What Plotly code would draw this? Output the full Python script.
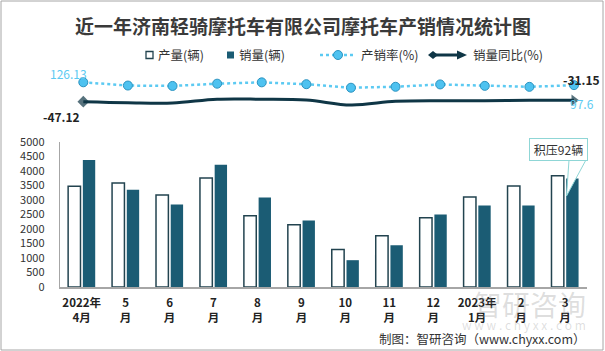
import plotly.graph_objects as go

W, H = 605, 351

categories = ["2022年<br>4月", "5<br>月", "6<br>月", "7<br>月", "8<br>月", "9<br>月",
              "10<br>月", "11<br>月", "12<br>月", "2023年<br>1月", "2<br>月", "3<br>月"]
production = [3470, 3585, 3175, 3755, 2455, 2145, 1290, 1770, 2385, 3105, 3480, 3833]
sales = [4377, 3355, 2842, 4212, 3082, 2295, 925, 1438, 2500, 2808, 2808, 3741]
ratio = [126.13, 93.6, 89.5, 112.2, 125.5, 107.0, 71.7, 81.2, 104.8, 90.4, 80.7, 97.6]
yoy = [-47.12, -59, -63, -18, -18, -27, -87, -43, -35, -35, -31, -31.15]
yticks = [0, 500, 1000, 1500, 2000, 2500, 3000, 3500, 4000, 4500, 5000]

FONT = "Noto Sans CJK SC, Microsoft YaHei, sans-serif"
DARK = "#0f3646"
BAR_DARK = "#1b5c74"
BAR_EDGE = "#22434f"
LIGHT = "#5ccaf2"
TEAL = "#8fd6d6"


def px(x):
    return x / W


def py(y):
    return 1 - y / H


fig = go.Figure()
fig.add_trace(go.Bar(name="产量(辆)", x=categories, y=production,
                     marker=dict(color="#ffffff", line=dict(color=BAR_EDGE, width=1.5)),
                     yaxis="y", xaxis="x"))
fig.add_trace(go.Bar(name="销量(辆)", x=categories, y=sales,
                     marker=dict(color=BAR_DARK, line=dict(width=0)),
                     yaxis="y", xaxis="x"))
fig.add_trace(go.Scatter(name="产销率(%)", x=categories, y=ratio, xaxis="x2", yaxis="y2",
                         mode="lines+markers",
                         line=dict(color=LIGHT, width=2.5, dash="dot"),
                         marker=dict(symbol="circle", size=9, color="#4ec2f0",
                                     line=dict(color="#2b93c0", width=1))))
n = len(yoy)
fig.add_trace(go.Scatter(name="销量同比(%)", x=categories, y=yoy, xaxis="x2", yaxis="y3",
                         mode="lines+markers",
                         line=dict(color=DARK, width=3, shape="spline", smoothing=1.0),
                         marker=dict(symbol=["diamond"] + ["circle"] * (n - 2) + ["triangle-right"],
                                     size=[9] + [0] * (n - 2) + [10], color=DARK,
                                     line=dict(width=0))))

LEG_Y = 55
leg_font = dict(size=12.5, color="#333333", family=FONT)

annotations = [
    dict(text="近一年济南轻骑摩托车有限公司摩托车产销情况统计图", x=0.5, y=py(25), xref="paper", yref="paper",
         xanchor="center", yanchor="middle",
         showarrow=False, font=dict(size=19, color="#3a3a3a", family=FONT, weight="bold")),
    dict(text="产量(辆)", x=px(156), y=py(LEG_Y), xref="paper", yref="paper", xanchor="left",
         yanchor="middle", showarrow=False, font=leg_font),
    dict(text="销量(辆)", x=px(237), y=py(LEG_Y), xref="paper", yref="paper", xanchor="left",
         yanchor="middle", showarrow=False, font=leg_font),
    dict(text="产销率(%)", x=px(359), y=py(LEG_Y), xref="paper", yref="paper", xanchor="left",
         yanchor="middle", showarrow=False, font=leg_font),
    dict(text="销量同比(%)", x=px(471), y=py(LEG_Y), xref="paper", yref="paper", xanchor="left",
         yanchor="middle", showarrow=False, font=leg_font),
    dict(text="126.13", x=categories[0], y=ratio[0], xref="x2", yref="y2", showarrow=False,
         xanchor="center", yanchor="middle",
         xshift=-15, yshift=9, font=dict(size=12, color=LIGHT, family=FONT)),
    dict(text="-47.12", x=categories[0], y=yoy[0], xref="x2", yref="y3", showarrow=False,
         xanchor="center", yanchor="middle",
         xshift=-22, yshift=-15, font=dict(size=12, color="#222222", family=FONT, weight="bold")),
    dict(text="-31.15", x=categories[-1], y=ratio[-1], xref="x2", yref="y2", showarrow=False,
         xanchor="center", yanchor="middle",
         xshift=7, yshift=6, font=dict(size=12, color="#222222", family=FONT, weight="bold")),
    dict(text="97.6", x=categories[-1], y=yoy[-1], xref="x2", yref="y3", showarrow=False,
         xanchor="center", yanchor="middle",
         xshift=8, yshift=-3, font=dict(size=12, color=LIGHT, family=FONT)),
    dict(text="积压92辆", x=px(558), y=py(149.5), xref="paper", yref="paper", showarrow=False,
         xanchor="center", yanchor="middle",
         font=dict(size=12, color="#333333", family=FONT), bgcolor="#ffffff",
         bordercolor=TEAL, borderwidth=1, borderpad=3, width=51, height=15),
    dict(text="智研咨询", x=px(588), y=py(304), xref="paper", yref="paper", xanchor="right",
         yanchor="middle",
         showarrow=False, font=dict(size=28, color="rgba(140,140,140,0.28)", family=FONT)),
    dict(text="w w w . c h y x x . c o m", x=px(588), y=py(324), xref="paper", yref="paper",
         xanchor="right", yanchor="middle", showarrow=False,
         font=dict(size=12, color="rgba(140,140,140,0.28)", family=FONT)),
    dict(text="制图：智研咨询（www.chyxx.com）", x=px(588), y=py(338), xref="paper", yref="paper",
         xanchor="right", yanchor="middle", showarrow=False,
         font=dict(size=12.5, color="#333333", family=FONT)),
]

shapes = [
    dict(type="rect", xref="paper", yref="paper", x0=px(1), x1=px(603), y0=py(350), y1=py(1),
         line=dict(color="#a6a6a6", width=1)),
    # callout pointer
    dict(type="path", xref="paper", yref="paper",
         path=f"M {px(569)},{py(160)} L {px(566.5)},{py(196)} L {px(587)},{py(158)} Z",
         fillcolor="#ffffff", line=dict(color=TEAL, width=1)),
    # legend symbols
    dict(type="rect", xref="paper", yref="paper", x0=px(146), x1=px(153), y0=py(LEG_Y + 3.5),
         y1=py(LEG_Y - 3.5), fillcolor="#ffffff", line=dict(color=BAR_EDGE, width=1.3)),
    dict(type="rect", xref="paper", yref="paper", x0=px(227), x1=px(234), y0=py(LEG_Y + 3.5),
         y1=py(LEG_Y - 3.5), fillcolor=BAR_DARK, line=dict(width=0)),
    dict(type="line", xref="paper", yref="paper", x0=px(320), x1=px(353), y0=py(LEG_Y),
         y1=py(LEG_Y), line=dict(color=LIGHT, width=2.5, dash="dot")),
    dict(type="circle", xref="paper", yref="paper", x0=px(333.5), x1=px(342.5), y0=py(LEG_Y + 4.5),
         y1=py(LEG_Y - 4.5), fillcolor="#4ec2f0", line=dict(color="#2b93c0", width=1)),
    dict(type="line", xref="paper", yref="paper", x0=px(431), x1=px(462), y0=py(LEG_Y),
         y1=py(LEG_Y), line=dict(color=DARK, width=3)),
    dict(type="path", xref="paper", yref="paper",
         path=(f"M {px(428)},{py(LEG_Y)} L {px(433)},{py(LEG_Y - 4)} L {px(438)},{py(LEG_Y)} "
               f"L {px(433)},{py(LEG_Y + 4)} Z"),
         fillcolor=DARK, line=dict(width=0)),
    dict(type="path", xref="paper", yref="paper",
         path=(f"M {px(457)},{py(LEG_Y - 4.5)} L {px(467)},{py(LEG_Y)} L {px(457)},{py(LEG_Y + 4.5)} Z"),
         fillcolor=DARK, line=dict(width=0)),
]

fig.update_layout(
    width=W, height=H,
    margin=dict(l=0, r=0, t=0, b=0, autoexpand=False),
    paper_bgcolor="#ffffff", plot_bgcolor="rgba(0,0,0,0)",
    barmode="group", bargap=0.33, bargroupgap=0.16,
    font=dict(family=FONT, color="#333333"),
    showlegend=False,
    xaxis=dict(domain=[px(59.7), px(587)], range=[-0.5, 11.5], anchor="y", showline=True,
               linecolor="#a6a6a6", linewidth=1.5, ticks="", showgrid=False, automargin=False,
               ticklabelstandoff=4,
               tickfont=dict(size=11.5, color="#222222", family=FONT, weight="bold")),
    xaxis2=dict(domain=[px(61), px(596.3)], range=[-0.5, 11.5], anchor="y2", visible=False,
                automargin=False),
    yaxis=dict(domain=[py(287), py(142)], range=[0, 5000], tickvals=yticks,
               showline=True, linecolor="#a6a6a6", linewidth=1, showgrid=False, ticks="",
               ticklabelstandoff=12, zeroline=False, automargin=False,
               tickfont=dict(size=11, color="#333333", family=FONT)),
    yaxis2=dict(domain=[py(110), py(70)], range=[-151, 249], visible=False, anchor="x2",
                automargin=False),
    yaxis3=dict(domain=[py(110), py(70)], range=[-147, 333], visible=False, anchor="x2",
                overlaying="y2", automargin=False),
    annotations=annotations,
    shapes=shapes,
)

fig.write_html("out.html")
